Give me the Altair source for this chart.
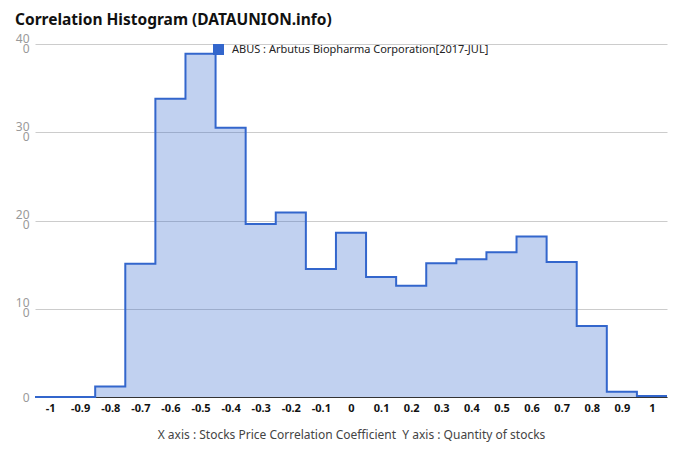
import altair as alt
import pandas as pd

# bin centers and counts
centers = [-1.0, -0.9, -0.8, -0.7, -0.6, -0.5, -0.4, -0.3, -0.2, -0.1, 0.0,
           0.1, 0.2, 0.3, 0.4, 0.5, 0.6, 0.7, 0.8, 0.9, 1.0]
counts = [0, 0, 1.2, 15.1, 33.8, 38.9, 30.5, 19.6, 20.9, 14.5, 18.6,
          13.6, 12.6, 15.15, 15.6, 16.4, 18.2, 15.3, 8.05, 0.6, 0.1]
series_name = "ABUS : Arbutus Biopharma Corporation[2017-JUL]"
y_ticks = [0, 10, 20, 30, 40]

half = 0.05
edges = [round(c - half, 3) for c in centers] + [round(centers[-1] + half, 3)]
vals = counts + [counts[-1]]
df = pd.DataFrame({"x": edges, "y": vals, "s": [series_name] * len(edges)})

FONT = "Noto Sans"

x_axis = alt.Axis(values=centers, grid=False,
                  labelExpr="(datum.value < -0.001 ? '-' : '') + format(abs(datum.value), '.1~f')",
                  labelOverlap=False, labelBound=False,
                  ticks=False, domainColor="#333333", domainWidth=1,
                  labelColor="#111111", labelFontSize=11, labelFontWeight="bold",
                  labelFont=FONT, labelPadding=5, labelFlush=False,
                  title="X axis : Stocks Price Correlation Coefficient \u00a0Y axis : Quantity of stocks",
                  titleFont=FONT, titleFontSize=12, titleFontWeight="normal",
                  titleColor="#444444", titlePadding=16)
y_axis = alt.Axis(values=y_ticks, grid=True, gridColor="#cccccc",
                  domain=False, ticks=False, labelColor="#999999",
                  labelFont=FONT, labelFontSize=12, labelPadding=6,
                  labelLineHeight=10,
                  labelBaseline={"condition": {"test": "datum.value == 0", "value": "middle"},
                                 "value": "alphabetic"},
                  labelOffset={"condition": {"test": "datum.value == 0", "value": 0},
                               "value": -2},
                  labelExpr="datum.value == 0 ? '0' : [datum.label, '0']",
                  title=None)
x_scale = alt.Scale(domain=[-1.05, 1.05], nice=False, zero=False)
y_scale = alt.Scale(domain=[0, 40], nice=False)

area = alt.Chart(df).mark_area(interpolate="step-after", fillOpacity=0.3).encode(
    x=alt.X("x:Q", scale=x_scale, axis=x_axis),
    y=alt.Y("y:Q", scale=y_scale, axis=y_axis),
    color=alt.Color("s:N", scale=alt.Scale(range=["#3366cc"]),
                    legend=alt.Legend(title=None, orient="none", legendX=178, legendY=0,
                                      symbolType="square", symbolSize=121,
                                      symbolOpacity=1, symbolStrokeWidth=0,
                                      labelFont=FONT, labelFontSize=11, labelLimit=0,
                                      labelColor="#222222", labelOffset=8,
                                      padding=0)),
)
line = alt.Chart(df).mark_line(interpolate="step-after", color="#3366cc", strokeWidth=2).encode(
    x=alt.X("x:Q", scale=x_scale, axis=x_axis),
    y=alt.Y("y:Q", scale=y_scale, axis=y_axis),
)

chart = alt.layer(area, line).properties(
    width=632, height=353,
    autosize=alt.AutoSizeParams(type="none"),
    padding={"left": 27, "top": 36, "right": 5, "bottom": 57},
    title=alt.TitleParams("Correlation Histogram (DATAUNION.info)", anchor="start",
                          frame="group", font=FONT, fontSize=15.5, fontWeight="bold",
                          color="#111111", dx=-20, offset=12, dy=8),
).configure_view(stroke=None)

chart.save("out.html", embed_options={"renderer": "svg", "actions": False})
